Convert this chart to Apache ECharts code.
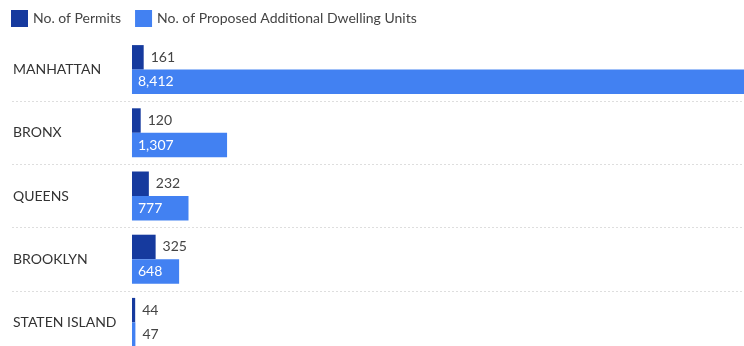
<!DOCTYPE html>
<html>
<head>
<meta charset="utf-8">
<script src="https://cdn.jsdelivr.net/npm/echarts@6/dist/echarts.min.js"></script>
<style>
  html, body { margin: 0; padding: 0; background: #fff; overflow: hidden; }
  /* the last row is cut off by the bottom of the window, as in the original */
  #chart { width: 744px; height: 356px; }
</style>
</head>
<body>
<div id="chart"></div>
<script>
const boroughs = ['MANHATTAN', 'BRONX', 'QUEENS', 'BROOKLYN', 'STATEN ISLAND'];
const permits = [161, 120, 232, 325, 44];
const dwellingUnits = [8412, 1307, 777, 648, 47];

const darkBlue = '#163a9e';
const brightBlue = '#4281f2';
const font = 'Lato, "Open Sans", sans-serif';

var myChart = echarts.init(document.getElementById('chart'));

const option = {
    backgroundColor: '#fff',
    textStyle: { fontFamily: font },
    legend: {
        left: 11,
        top: 10,
        padding: 0,
        itemWidth: 17,
        itemHeight: 17,
        itemGap: 14,
        icon: 'rect',
        textStyle: { color: '#444', fontSize: 14, fontFamily: font },
        data: ['No. of Permits', 'No. of Proposed Additional Dwelling Units']
    },
    grid: {
        left: 12,
        right: 0,
        top: 38,
        height: 316
    },
    xAxis: {
        type: 'value',
        // value 0 sits where the bars start; labels occupy the negative side
        min: -1649,
        max: 8412,
        show: false
    },
    yAxis: {
        type: 'category',
        inverse: true,
        data: boroughs,
        axisLine: { show: false },
        axisTick: { show: false },
        axisLabel: {
            inside: true,
            margin: 1,
            color: '#333',
            fontSize: 14,
            fontFamily: font
        },
        splitLine: {
            show: true,
            interval: function (index) { return index !== 0; },
            lineStyle: { color: '#dedede', type: [2, 2], width: 1 }
        },
        z: 5
    },
    series: [
        {
            name: 'No. of Permits',
            type: 'bar',
            color: darkBlue,
            barWidth: 24.5,
            barGap: '0%',
            label: {
                show: true,
                position: 'right',
                distance: 7,
                color: '#444',
                fontSize: 14,
                fontFamily: font
            },
            data: permits
        },
        {
            name: 'No. of Proposed Additional Dwelling Units',
            type: 'bar',
            color: brightBlue,
            barWidth: 24.5,
            label: {
                show: true,
                position: 'insideLeft',
                distance: 6,
                color: '#fff',
                fontSize: 14,
                fontFamily: font,
                formatter: function (p) { return p.value.toLocaleString('en-US'); }
            },
            data: dwellingUnits.map(function (v) {
                // bars too short for an inside label get it outside, in grey
                if (v < 300) {
                    return { value: v, label: { position: 'right', color: '#444', distance: 7 } };
                }
                return v;
            })
        }
    ]
};

option && myChart.setOption(option);
</script>
</body>
</html>
